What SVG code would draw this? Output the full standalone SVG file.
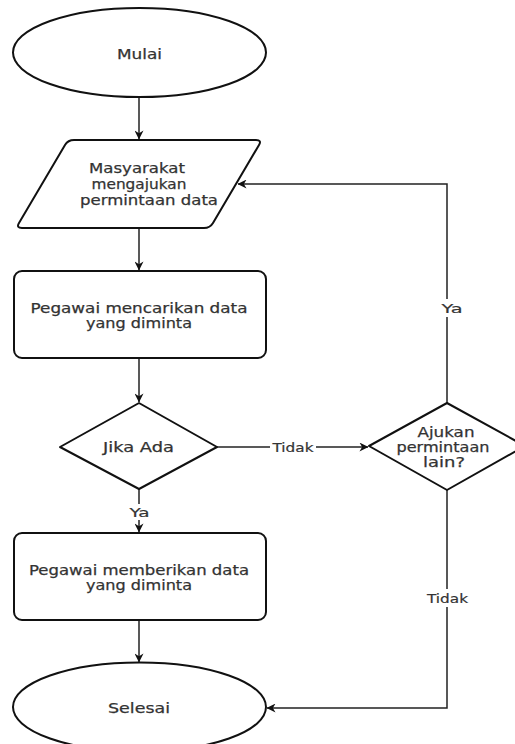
<svg xmlns="http://www.w3.org/2000/svg" width="515" height="744" viewBox="0 0 515 744">
<style>
.shape{fill:#fff;stroke:#111;stroke-width:2}
.conn{fill:none;stroke:#222;stroke-width:1.5}
.t{font-family:"DejaVu Sans",Verdana,sans-serif;font-size:14px;fill:#333;stroke:#333;stroke-width:0.25;text-anchor:middle;dominant-baseline:central}
.lbl{font-family:"DejaVu Sans",Verdana,sans-serif;font-size:13px;fill:#333;stroke:#333;stroke-width:0.2;text-anchor:middle;dominant-baseline:central}
</style>
<defs>
<marker id="arr" viewBox="0 0 10 10" refX="9.5" refY="5" markerWidth="9" markerHeight="9" orient="auto" markerUnits="userSpaceOnUse">
<path d="M0,0 L10,5 L0,10 L3,5 Z" fill="#111"/>
</marker>
</defs>
<rect width="515" height="744" fill="#fff"/>
<g id="connectors">
<line class="conn" x1="139" y1="97" x2="139" y2="139" marker-end="url(#arr)"/>
<line class="conn" x1="139" y1="228" x2="139" y2="270" marker-end="url(#arr)"/>
<line class="conn" x1="139" y1="358" x2="139" y2="402" marker-end="url(#arr)"/>
<line class="conn" x1="139" y1="489" x2="139" y2="532" marker-end="url(#arr)"/>
<line class="conn" x1="139" y1="620" x2="139" y2="662" marker-end="url(#arr)"/>
<line class="conn" x1="217" y1="447" x2="368" y2="447" marker-end="url(#arr)"/>
<polyline class="conn" points="447,403 447,184 238,184" marker-end="url(#arr)"/>
<polyline class="conn" points="447,490 447,708 267,708" marker-end="url(#arr)"/>
<rect x="128" y="504" width="22" height="16" fill="#fff"/>
<text class="lbl" x="139.5" y="512" textLength="20" lengthAdjust="spacingAndGlyphs">Ya</text>
<rect x="270" y="439" width="46" height="16" fill="#fff"/>
<text class="lbl" x="293" y="447" textLength="41" lengthAdjust="spacingAndGlyphs">Tidak</text>
<rect x="440" y="299" width="24" height="18" fill="#fff"/>
<text class="lbl" x="452" y="308" textLength="21" lengthAdjust="spacingAndGlyphs">Ya</text>
<rect x="425" y="589" width="46" height="18" fill="#fff"/>
<text class="lbl" x="447.5" y="598" textLength="41" lengthAdjust="spacingAndGlyphs">Tidak</text>
</g>
<g id="mulai">
<ellipse class="shape" cx="139.5" cy="52.5" rx="126.5" ry="44.5"/>
<text class="t" x="139.5" y="54" textLength="45" lengthAdjust="spacingAndGlyphs">Mulai</text>
</g>
<g id="masyarakat">
<path class="shape" d="M74,140 H256 Q262,140 259,145 L213,223 Q210,228 204,228 H22 Q16,228 19,223 L65,145 Q68,140 74,140 Z"/>
<text class="t" x="137" y="168" textLength="96" lengthAdjust="spacingAndGlyphs">Masyarakat</text>
<text class="t" x="139" y="184" textLength="95" lengthAdjust="spacingAndGlyphs">mengajukan</text>
<text class="t" x="149" y="200" textLength="138" lengthAdjust="spacingAndGlyphs">permintaan data</text>
</g>
<g id="mencarikan">
<rect class="shape" x="14" y="271" width="252" height="87" rx="8"/>
<text class="t" x="139" y="308" textLength="217" lengthAdjust="spacingAndGlyphs">Pegawai mencarikan data</text>
<text class="t" x="139" y="323" textLength="106" lengthAdjust="spacingAndGlyphs">yang diminta</text>
</g>
<g id="jika-ada">
<polygon class="shape" points="139,403 217,447 139,489 60,447" stroke-linejoin="round"/>
<text class="t" x="138.5" y="447" textLength="71" lengthAdjust="spacingAndGlyphs">Jika Ada</text>
</g>
<g id="memberikan">
<rect class="shape" x="14" y="533" width="252" height="87" rx="8"/>
<text class="t" x="139" y="570" textLength="220" lengthAdjust="spacingAndGlyphs">Pegawai memberikan data</text>
<text class="t" x="139" y="585" textLength="106" lengthAdjust="spacingAndGlyphs">yang diminta</text>
</g>
<g id="selesai">
<ellipse class="shape" cx="139.5" cy="707" rx="126.5" ry="44.5"/>
<text class="t" x="139" y="708" textLength="62" lengthAdjust="spacingAndGlyphs">Selesai</text>
</g>
<g id="ajukan">
<polygon class="shape" points="447,403 525,446 447,490 369,446" stroke-linejoin="round"/>
<text class="t" x="446" y="432" textLength="57" lengthAdjust="spacingAndGlyphs">Ajukan</text>
<text class="t" x="443" y="447" textLength="93" lengthAdjust="spacingAndGlyphs">permintaan</text>
<text class="t" x="444" y="462" textLength="42" lengthAdjust="spacingAndGlyphs">lain?</text>
</g>
</svg>
